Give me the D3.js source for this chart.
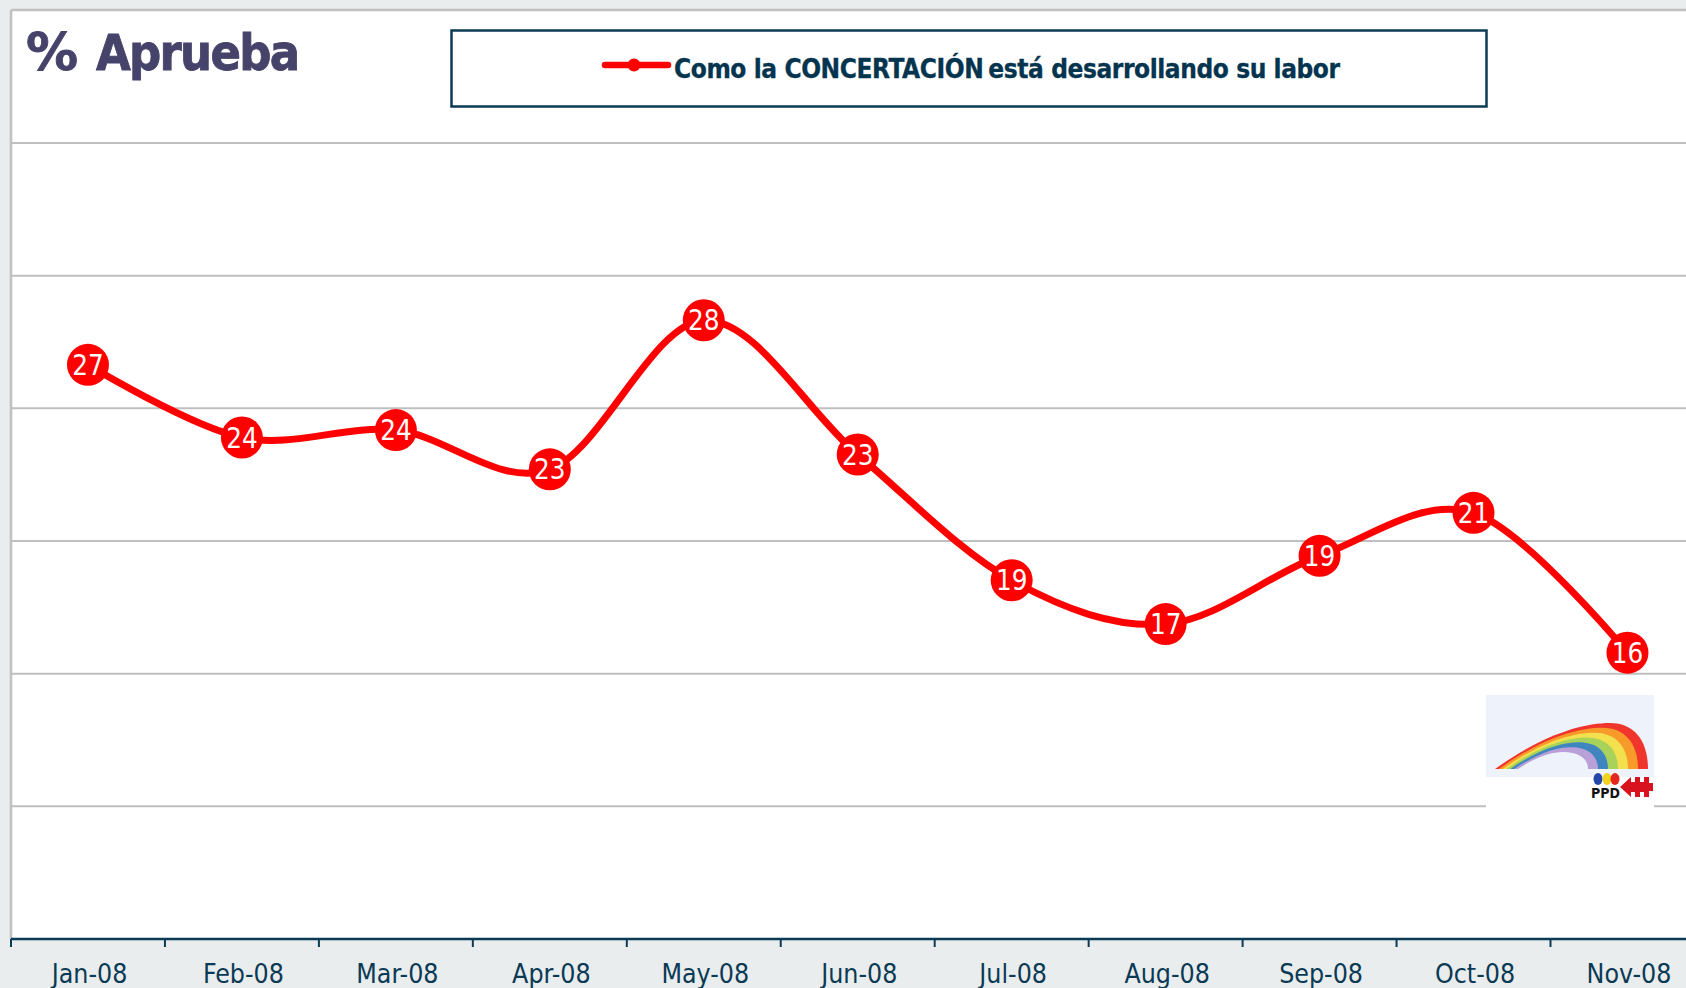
<!DOCTYPE html>
<html><head><meta charset="utf-8">
<script src="https://cdn.jsdelivr.net/npm/d3@7/dist/d3.min.js"></script>
<style>
html,body{margin:0;padding:0;background:#e9edee;overflow:hidden}
svg{display:block}
text{font-family:"DejaVu Sans Condensed","DejaVu Sans",sans-serif}
</style></head><body>
<svg id="c" width="1686" height="988"></svg>
<script>
const months=["Jan-08","Feb-08","Mar-08","Apr-08","May-08","Jun-08","Jul-08","Aug-08","Sep-08","Oct-08","Nov-08"];
const aprueba=[26.64,23.9,24.18,22.7,28.32,23.26,18.52,16.87,19.44,21.06,15.79];
const yTicks=[10,15,20,25,30,35];
const titlePercent="%";
const titleWord="Aprueba";
const legendA="Como la CONCERTACIÓN";
const legendB="está desarrollando su labor";
const rainbowColors=["#f0352c","#f79a2a","#f3e04e","#a9d25a","#3f86c0","#b9a0d8"];

const W=1686,H=988,L=11,T=10,B=939,step=153.95;
const svg=d3.select("#c");
svg.append("rect").attr("width",W).attr("height",H).attr("fill","#e9edee");
svg.append("rect").attr("x",L).attr("y",T).attr("width",W-L).attr("height",B-T).attr("fill","#fff");
svg.append("line").attr("x1",L).attr("x2",W).attr("y1",T).attr("y2",T).attr("stroke","#c0c0c0").attr("stroke-width",2.5);
svg.append("line").attr("x1",L).attr("x2",L).attr("y1",T).attr("y2",B).attr("stroke","#c0c0c0").attr("stroke-width",2.5);

const x=d3.scaleBand().domain(months).range([L,L+step*months.length]);
const y=d3.scaleLinear().domain([5,35]).range([B,143]);

svg.append("g").selectAll("line").data(yTicks).join("line")
 .attr("x1",L).attr("x2",W).attr("y1",d=>y(d)).attr("y2",d=>y(d))
 .attr("stroke","#bfbfbf").attr("stroke-width",2);

// logo
const logo=svg.append("g");
const logoBg="#eef3fb";
logo.append("rect").attr("x",1486).attr("y",695).attr("width",168).attr("height",120).attr("fill","#fff");
logo.append("rect").attr("x",1486).attr("y",695).attr("width",168).attr("height",82).attr("fill",logoBg);
const band=(k,fill)=>{
  const t=k/6, tx=1495+t*23, px=1610-t*47, py=723+t*29, rx=1648-t*60, by=769;
  logo.append("path").attr("fill",fill).attr("d",
   `M${tx},${by} C${tx+(px-tx)*.4},${by-(by-py)*.72} ${px-(px-tx)*.25},${py} ${px},${py} `+
   `C${px+(rx-px)*.7},${py} ${rx},${py+(by-py)*.45} ${rx},${by} Z`);
};
rainbowColors.forEach((c,i)=>band(i,c));
band(6,logoBg);
[["#2446a8",1598],["#f2d21e",1607],["#e5261f",1615]].forEach(([c,cx])=>
  logo.append("ellipse").attr("cx",cx).attr("cy",779).attr("rx",4.5).attr("ry",6).attr("fill",c));
logo.append("text").attr("x",1605.5).attr("y",798).attr("text-anchor","middle")
  .attr("font-size",14).attr("font-weight",700).attr("fill","#111").text("PPD");
logo.append("path").attr("d","M1620,787 L1631,777 L1631,782 L1635,782 L1635,777 L1640,777 L1640,782 L1644,782 L1644,777 L1649,777 L1649,783 L1653,783 L1653,791 L1649,791 L1649,797 L1644,797 L1644,792 L1640,792 L1640,797 L1635,797 L1635,792 L1631,792 L1631,797 Z").attr("fill","#d8121f");

// axis
const axis=svg.append("g").attr("transform",`translate(1.5,${B})`)
 .call(d3.axisBottom(x).tickSize(0).tickPadding(0));
axis.select(".domain").remove();
axis.selectAll("text").attr("y",44).attr("dy",0).attr("font-size",26.5).attr("fill","#0b3a55")
  .style("font-family",'"DejaVu Sans Condensed","DejaVu Sans",sans-serif');
svg.append("line").attr("x1",L).attr("x2",W).attr("y1",B).attr("y2",B).attr("stroke","#0b3a55").attr("stroke-width",2.5);
svg.append("g").selectAll("line").data(months).join("line")
 .attr("x1",d=>x(d)).attr("x2",d=>x(d)).attr("y1",B).attr("y2",B+8)
 .attr("stroke","#0b3a55").attr("stroke-width",2);

// series
const px=(d,i)=>x(months[i])+x.bandwidth()/2;
const line=d3.line().x(px).y(d=>y(d)).curve(d3.curveCatmullRom.alpha(0));
svg.append("path").datum(aprueba).attr("d",line).attr("fill","none").attr("stroke","#ff0000").attr("stroke-width",7).attr("stroke-linejoin","round");
const pts=svg.append("g").selectAll("g").data(aprueba).join("g")
 .attr("transform",(d,i)=>`translate(${px(d,i)},${y(d)})`);
pts.append("circle").attr("r",21).attr("fill","#ff0000");
pts.append("text").attr("text-anchor","middle").attr("y",10).attr("font-size",27.5).attr("fill","#fff").text(d=>d3.format(".0f")(d));

// title
const title=svg.append("text").attr("x",26).attr("y",70).attr("font-size",50).attr("font-weight",700)
  .attr("fill","#46436b").attr("stroke","#46436b").attr("stroke-width",0.8);
title.append("tspan").style("font-family",'"DejaVu Sans",sans-serif').style("font-size","52px").text(titlePercent);
title.append("tspan").attr("x",96).attr("letter-spacing",-1.7).text(titleWord);

// legend
svg.append("rect").attr("x",451.5).attr("y",30.5).attr("width",1035).attr("height",76).attr("fill","#fff").attr("stroke","#0b3a55").attr("stroke-width",2.5);
svg.append("line").attr("x1",605).attr("x2",668).attr("y1",65).attr("y2",65).attr("stroke","#ff0000").attr("stroke-width",6.5).attr("stroke-linecap","round");
svg.append("circle").attr("cx",634).attr("cy",65).attr("r",6.5).attr("fill","#ff0000");
const lg=svg.append("text").attr("x",674).attr("y",78).attr("font-size",26).attr("font-weight",700)
  .attr("fill","#05344f").attr("stroke","#05344f").attr("stroke-width",0.3).attr("letter-spacing",-0.42);
lg.append("tspan").text(legendA);
lg.append("tspan").attr("dx",5).text(legendB);
</script></body></html>
